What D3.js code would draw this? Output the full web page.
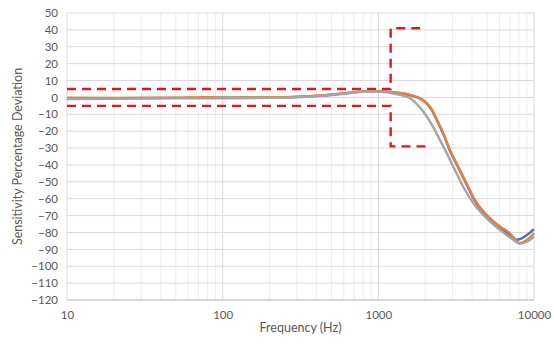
<!DOCTYPE html>
<html>
<head>
<meta charset="utf-8">
<script src="https://cdn.jsdelivr.net/npm/d3@7"></script>
<style>
body{margin:0;background:#fff;}
text{font-family:Lato,"Open Sans",sans-serif;fill:#595959;}
</style>
</head>
<body>
<svg id="c" width="554" height="353"></svg>
<script>
// Frequency (Hz)
const freqGray   = [10,20,50,100,200,300,400,500,600,700,800,900,1000,1200,1400,1600,1850,2000,2200,2425,2750,3100,3500,4070,4950,6035,7350,8110,9000,10000];
const valGray    = [-1,-0.8,-0.6,-0.5,-0.3,0.1,0.7,1.4,2.2,2.9,3.3,3.5,3.3,2.6,1.3,-0.5,-6,-10,-16,-23.2,-33,-42.9,-52.8,-62.6,-71.5,-78.4,-84.3,-86.7,-85.5,-82.4];
const freqOrange = [10,20,50,80,100,200,300,400,500,600,700,800,900,1000,1200,1400,1600,1800,2000,2200,2400,2610,2880,3260,3690,4170,4950,6035,7000,7730,8110,9000,10000];
const valOrange  = [-0.2,-0.3,-0.2,0.1,-0.1,0,0.4,1,1.7,2.4,3.1,3.5,3.7,3.6,3.2,2.6,1.5,0,-2.5,-7,-14,-21,-31,-41,-51,-60.7,-69.5,-76.4,-80.5,-85,-86.3,-84.5,-80.5];
const freqBlue   = [10,20,50,100,200,300,400,500,600,700,800,900,1000,1200,1400,1600,1800,2000,2200,2400,2610,2880,3260,3690,4170,4950,6035,7000,7730,8110,9000,10000];
const valBlue    = [-0.4,-0.4,-0.3,-0.2,-0.1,0.3,0.9,1.6,2.3,3.0,3.4,3.6,3.5,3.1,2.4,1.3,-0.2,-2.8,-7.4,-14.4,-21.5,-31.5,-41.5,-51.5,-61.3,-70.3,-77,-81.5,-84.3,-84,-81.5,-78];
// Limit mask (red dashed)
const maskUpperF = [10,1200,1200,2000];
const maskUpperV = [5,5,41,41];
const maskLowerF = [10,1200,1200,2050];
const maskLowerV = [-5,-5,-29,-29];
const yTicks = d3.range(-120, 51, 10);
const xTicks = [10,100,1000,10000];

const svg = d3.select("#c");
const L=67, R=534, T=13, B=300;
const x = d3.scaleLog().domain([10,10000]).range([L,R]);
const y = d3.scaleLinear().domain([-120,50]).range([B,T]);

// minor vertical grid
const minor=[];
[10,100,1000].forEach(d=>{for(let k=2;k<=9;k++)minor.push(d*k);});
svg.append("g").selectAll("line").data(minor).join("line")
  .attr("x1",d=>x(d)).attr("x2",d=>x(d)).attr("y1",T).attr("y2",B)
  .attr("stroke","#eeeeee").attr("stroke-width",1);
// major vertical grid
svg.append("g").selectAll("line").data(xTicks).join("line")
  .attr("x1",d=>x(d)).attr("x2",d=>x(d)).attr("y1",T).attr("y2",B)
  .attr("stroke","#d9d9d9").attr("stroke-width",1);
// horizontal grid
svg.append("g").selectAll("line").data(yTicks).join("line")
  .attr("x1",L).attr("x2",R).attr("y1",d=>y(d)).attr("y2",d=>y(d))
  .attr("stroke","#d9d9d9").attr("stroke-width",1);
// bottom axis line
svg.append("line").attr("x1",L).attr("x2",R).attr("y1",B).attr("y2",B).attr("stroke","#bfbfbf").attr("stroke-width",1.2);

// axes labels via d3 axes
const yAxis = svg.append("g").attr("transform",`translate(${L},0)`)
  .call(d3.axisLeft(y).tickValues(yTicks).tickSize(0).tickPadding(9).tickFormat(d3.format("d")));
yAxis.select(".domain").remove();
yAxis.selectAll("text").style("font-size","11.5px").attr("fill","#595959");
const xAxis = svg.append("g").attr("transform",`translate(0,${B})`)
  .call(d3.axisBottom(x).tickValues(xTicks).tickSize(0).tickPadding(11).tickFormat(d3.format("d")));
xAxis.select(".domain").remove();
xAxis.selectAll("text").style("font-size","11.5px").attr("fill","#595959");

// mask lines
const mline = d3.line().x(d=>x(d[0])).y(d=>y(d[1]));
[[maskUpperF,maskUpperV],[maskLowerF,maskLowerV]].forEach(([f,v])=>{
  svg.append("path").attr("d",mline(f.map((d,i)=>[d,v[i]])))
    .attr("fill","none").attr("stroke","#e8141b").attr("stroke-width",2.4)
    .attr("stroke-dasharray","9,6");
});

// curves
const cline = d3.line().x(d=>x(d[0])).y(d=>y(d[1])).curve(d3.curveMonotoneX);
[[freqBlue,valBlue,"#4472c4"],[freqOrange,valOrange,"#ed7d31"],[freqGray,valGray,"#a5a5a5"]].forEach(([f,v,c])=>{
  svg.append("path").attr("d",cline(f.map((d,i)=>[d,v[i]])))
    .attr("fill","none").attr("stroke",c).attr("stroke-width",2.4).attr("stroke-linejoin","round");
});

// titles
svg.append("text").attr("x",(L+R)/2).attr("y",332).attr("text-anchor","middle")
  .style("font-size","12.5px").text("Frequency (Hz)");
svg.append("text").attr("transform",`translate(22,${(T+B)/2}) rotate(-90)`).attr("text-anchor","middle")
  .style("font-size","12.5px").text("Sensitivity Percentage Deviation");
</script>
</body>
</html>
